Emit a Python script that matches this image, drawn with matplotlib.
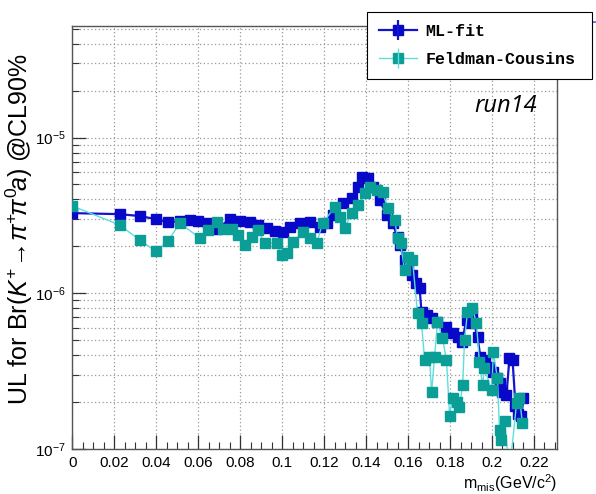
import numpy as np
import matplotlib
matplotlib.use("Agg")
import matplotlib.pyplot as plt
from matplotlib.lines import Line2D
from matplotlib.ticker import MultipleLocator, LogLocator, NullFormatter

plt.rcParams['font.family'] = ['Liberation Sans', 'DejaVu Sans']
plt.rcParams['mathtext.fontset'] = 'custom'
plt.rcParams['mathtext.rm'] = 'Liberation Sans'
plt.rcParams['mathtext.it'] = 'Liberation Sans:italic'

# mass points (GeV/c^2) and upper limits (x 1e-6)
ml_mass = [0.0, 0.0226, 0.0321, 0.0398, 0.0455, 0.0512, 0.0560, 0.0598, 0.0645, 0.0688,
           0.0750, 0.0798, 0.0845, 0.0883, 0.0926, 0.0964, 0.1002, 0.1036, 0.1083, 0.1131,
           0.1179, 0.1212, 0.1240, 0.1288, 0.1331, 0.1360, 0.1379, 0.1407, 0.1431, 0.1464,
           0.1498, 0.1526, 0.1550, 0.1560, 0.1583, 0.1598, 0.1621, 0.1640, 0.1655, 0.1664,
           0.1688, 0.1712, 0.1740, 0.1783, 0.1812, 0.1836, 0.1855, 0.1879, 0.1893, 0.1907,
           0.1931, 0.1945, 0.1969, 0.1988, 0.2007, 0.2026, 0.2040, 0.2050, 0.2069, 0.2083,
           0.2098, 0.2112, 0.2126, 0.2140, 0.2150]
ml_ul = [3.27, 3.22, 3.13, 2.99, 2.86, 2.90, 2.95, 2.90, 2.82, 2.58,
         2.99, 2.90, 2.86, 2.74, 2.62, 2.51, 2.47, 2.66, 2.82, 2.86,
         2.66, 2.82, 3.17, 3.79, 4.08, 4.81, 5.57, 5.49, 4.81, 3.96,
         3.17, 2.82, 2.29, 2.03, 1.63, 1.47, 1.31, 1.16, 1.08, 0.755,
         0.722, 0.690, 0.651, 0.604, 0.553, 0.521, 0.484, 0.670, 0.641, 0.722,
         0.521, 0.388, 0.371, 0.334, 0.310, 0.284, 0.264, 0.231, 0.221, 0.382,
         0.371, 0.190, 0.169, 0.164, 0.211]

fc_mass = [0.0, 0.0226, 0.0321, 0.0398, 0.0455, 0.0512, 0.0607, 0.0645, 0.0688, 0.0717,
           0.0760, 0.0788, 0.0821, 0.0855, 0.0883, 0.0917, 0.0974, 0.0998, 0.1021, 0.1050,
           0.1098, 0.1131, 0.1164, 0.1193, 0.1250, 0.1274, 0.1298, 0.1331, 0.1360, 0.1393,
           0.1417, 0.1450, 0.1479, 0.1502, 0.1536, 0.1550, 0.1564, 0.1583, 0.1598, 0.1621,
           0.1645, 0.1664, 0.1679, 0.1702, 0.1712, 0.1726, 0.1740, 0.1764, 0.1783, 0.1798,
           0.1812, 0.1831, 0.1845, 0.1860, 0.1869, 0.1883, 0.1907, 0.1926, 0.1940, 0.1955,
           0.1964, 0.1998, 0.2007, 0.2026, 0.2036, 0.2045, 0.2060, 0.2083, 0.2117, 0.2131,
           0.2145]
fc_ul = [3.63, 2.74, 2.19, 1.86, 2.16, 2.82, 2.26, 2.54, 2.86, 2.58,
         2.58, 2.36, 2.03, 2.29, 2.54, 2.10, 2.10, 1.75, 1.81, 2.13,
         2.47, 2.26, 2.10, 2.82, 3.57, 3.08, 2.62, 3.27, 3.68, 4.40,
         4.81, 4.59, 4.46, 3.52, 2.95, 2.26, 2.10, 1.41, 1.70, 1.63,
         0.744, 0.641, 0.371, 0.388, 0.231, 0.388, 0.651, 0.514, 0.371, 0.164,
         0.214, 0.199, 0.185, 0.256, 0.499, 0.755, 0.801, 0.641, 0.360, 0.256,
         0.330, 0.238, 0.418, 0.284, 0.132, 0.1135, 0.152, 0.07, 0.196, 0.214,
         0.146]

ml_color = '#0808c8'
ml_line = '#1414d0'
fc_color = '#0a9e96'
fc_line = '#5cdede'

fig = plt.figure(figsize=(5.96, 4.94), dpi=100)
ax = fig.add_axes([0.1216, 0.0911, 0.8130, 0.8563])

ax.plot(ml_mass, np.array(ml_ul) * 1e-6, '-s', color=ml_line, lw=1.6,
        mfc=ml_color, mec=ml_color, ms=7, zorder=3)
ax.plot(fc_mass, np.array(fc_ul) * 1e-6, '-s', color=fc_line, lw=1.0,
        mfc=fc_color, mec=fc_color, ms=7, zorder=4)

ax.set_yscale('log')
ax.set_xlim(0, 0.231)
ax.set_ylim(1e-7, 5.2e-5)

ax.xaxis.set_minor_locator(MultipleLocator(0.005))
ax.set_xticks(np.arange(0, 0.23, 0.02))
ax.set_xticklabels(['0', '0.02', '0.04', '0.06', '0.08', '0.1', '0.12', '0.14',
                    '0.16', '0.18', '0.2', '0.22'])
ax.yaxis.set_major_locator(LogLocator(base=10))
ax.yaxis.set_minor_locator(LogLocator(base=10, subs=np.arange(2, 10)))
ax.yaxis.set_minor_formatter(NullFormatter())

ax.tick_params(which='both', direction='in', top=False, right=False,
               labelsize=11, color='#333333')
ax.tick_params(which='major', length=10, width=0.9, pad=5)
ax.tick_params(which='minor', length=5, width=0.8)

ax.grid(True, which='major', axis='x', ls=(0, (1, 2)), color='#999999', lw=0.9)
ax.grid(True, which='both', axis='y', ls=(0, (1, 2)), color='#999999', lw=0.9)
ax.set_axisbelow(True)
for s in ax.spines.values():
    s.set_color('#555555')
    s.set_linewidth(1.0)

ax.set_ylabel(r'UL for Br($K^{+}\!\rightarrow\!\pi^{+}\!\pi^{0}\!a$) @CL90%', fontsize=18)
ax.yaxis.set_label_coords(-0.078, 0.52)
ax.set_xlabel(r'm$_{\rm mis}$(GeV/c$^{2}$)', fontsize=11.5, loc='right', labelpad=2)

ax.text(0.893, 0.81, 'run14', transform=ax.transAxes, fontsize=17,
        style='italic', family='Open Sans', ha='center', va='center')

# stray ML-fit segment running off past the frame
fig.add_artist(Line2D([487 / 596, 1.0], [1 - 26 / 494, 1 - 22 / 494],
                      color='#2030e0', lw=0.9, transform=fig.transFigure))

h_ml = (Line2D([], [], color=ml_line, lw=1.6, marker='s', ms=7, mfc=ml_color, mec=ml_color),
        Line2D([], [], color=ml_line, lw=0, marker='|', ms=14, mew=1.6))
h_fc = (Line2D([], [], color=fc_line, lw=1.0, marker='s', ms=7, mfc=fc_color, mec=fc_color),
        Line2D([], [], color=fc_line, lw=0, marker='|', ms=14, mew=1.0))
leg = fig.legend([h_ml, h_fc], ['ML-fit', 'Feldman-Cousins'],
                 loc='upper left', mode='expand',
                 bbox_to_anchor=(367 / 596, 1 - 75 / 494, 225 / 596, 63 / 494),
                 prop={'family': 'Liberation Mono', 'weight': 'bold', 'size': 12},
                 fancybox=False, edgecolor='black', framealpha=1, borderpad=0.7,
                 handlelength=2.3, handletextpad=0.5, labelspacing=0.8,
                 borderaxespad=0, frameon=True)
leg.get_frame().set_linewidth(0.8)
leg.set_zorder(10)

fig.savefig('out.png', dpi=100)
